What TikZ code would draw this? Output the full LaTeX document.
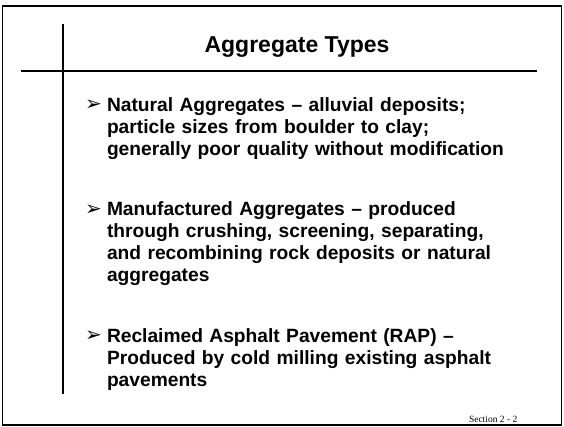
\documentclass[tikz,border=0pt]{standalone}
\usepackage{fontspec}
\setmainfont{Liberation Sans}
\newfontfamily\footfont{Liberation Serif}
\newfontfamily\dingfont{DejaVu Sans}
\begin{document}
\begin{tikzpicture}[x=1pt,y=-1pt,line width=2pt]
    \tikzstyle{item}=[anchor=base west,inner sep=0pt,text width=450pt,align=left,font=\fontsize{19.2}{22}\selectfont\bfseries]
    \tikzstyle{bullet}=[anchor=base east,inner sep=0pt,font=\dingfont\fontsize{20}{20}\selectfont]
    \useasboundingbox (0,0) rectangle (564,426);
    \draw[line width=1.8pt] (2.5,6) rectangle (561.5,424.8);

    \coordinate (rule-top) at (63,24);
    \coordinate (rule-bottom) at (63,394.3);
    \coordinate (rule-left) at (21,71);
    \coordinate (rule-right) at (537,71);
    \draw (rule-top) -- (rule-bottom);
    \draw (rule-left) -- (rule-right);

    \node[anchor=base,inner sep=0pt,font=\fontsize{23}{27}\selectfont\bfseries] (title) at (297,52.7) {Aggregate Types};

    \foreach \num/\y/\txt in {
        1/111/{Natural Aggregates – alluvial deposits;\\ particle sizes from boulder to clay;\\ generally poor quality without modification},
        2/215.5/{Manufactured Aggregates – produced\\ through crushing, screening, separating,\\ and recombining rock deposits or natural\\ aggregates},
        3/342.3/{Reclaimed Asphalt Pavement (RAP) –\\ Produced by cold milling existing asphalt\\ pavements}}
    {
        \node[bullet] (arrow-\num) at (103,\y-0.5) {➢};
        \node[item] (item-\num) at (106,\y) {\txt};
    }

    \node[anchor=base east,inner sep=0pt,font=\footfont\fontsize{9.5}{11}\selectfont] (section) at (518.3,422.7) {Section 2 - 2};
\end{tikzpicture}
\end{document}
